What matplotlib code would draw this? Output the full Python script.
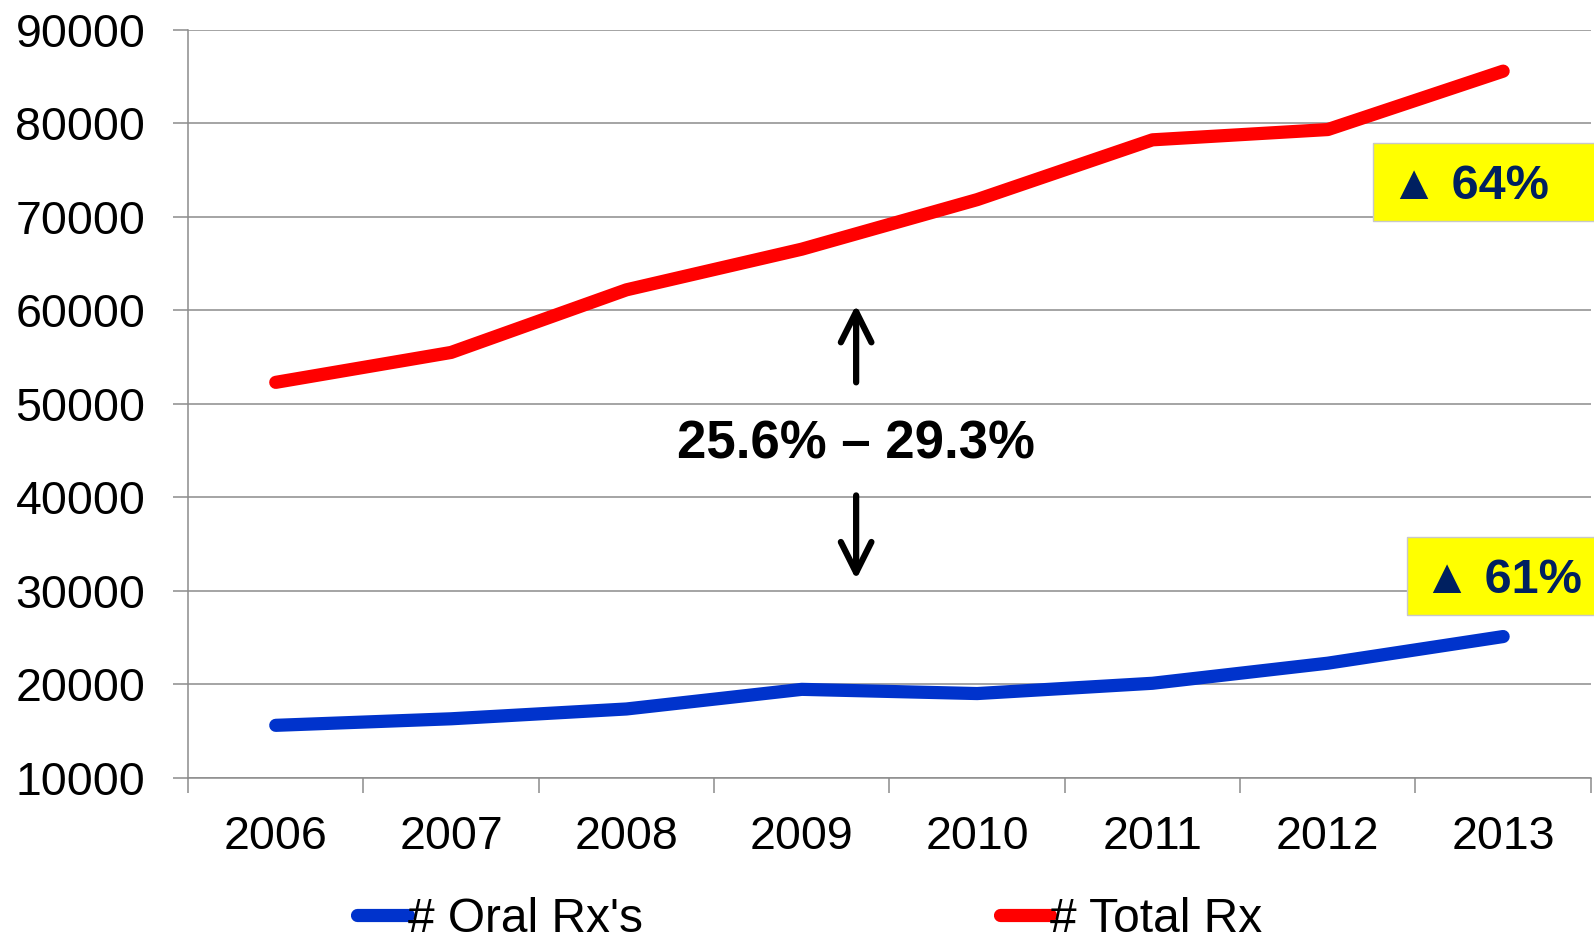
import matplotlib
matplotlib.use("Agg")
import matplotlib.pyplot as plt
import matplotlib.patches as patches
from matplotlib.lines import Line2D
from matplotlib.ticker import FixedLocator

plt.rcParams['font.family'] = ['Liberation Sans', 'DejaVu Sans']

# Data
years = ["2006", "2007", "2008", "2009", "2010", "2011", "2012", "2013"]
oral_rx = [15600, 16300, 17350, 19450, 19000, 20100, 22250, 25100]
total_rx = [52300, 55500, 62200, 66550, 71850, 78250, 79350, 85600]
series_labels = ["# Oral Rx's", "# Total Rx"]
gap_label = "25.6% \u2013 29.3%"
oral_growth = "\u25B2 61%"
total_growth = "\u25B2 64%"

blue = "#0033CC"
red = "#FF0000"
grid_gray = "#8C8C8C"
navy = "#002060"

fig = plt.figure(figsize=(15.94, 9.44), dpi=100)
ax = fig.add_axes([0.118, 0.1762, 0.880, 0.792])

x = list(range(len(years)))
ax.plot(x, oral_rx, color=blue, lw=9.5, solid_capstyle='round', solid_joinstyle='round', zorder=3)
ax.plot(x, total_rx, color=red, lw=9.5, solid_capstyle='round', solid_joinstyle='round', zorder=3)

ax.set_xlim(-0.5, len(years) - 0.5)
ax.set_ylim(10000, 90000)
ax.set_yticks(range(10000, 90001, 10000))
ax.yaxis.grid(True, color=grid_gray, lw=1.1)
ax.set_axisbelow(True)

ax.set_xticks(x)
ax.set_xticklabels(years)
ax.xaxis.set_minor_locator(FixedLocator([i - 0.5 for i in range(len(years) + 1)]))
ax.tick_params(axis='x', which='major', length=0, pad=27, labelsize=33.5)
ax.tick_params(axis='x', which='minor', length=10.5, width=1.1, color=grid_gray, direction='out')
ax.tick_params(axis='y', length=10.8, width=1.1, color=grid_gray, direction='out', pad=20, labelsize=33.5)

for side in ['top', 'right']:
    ax.spines[side].set_visible(False)
for side in ['left', 'bottom']:
    ax.spines[side].set_color(grid_gray)
    ax.spines[side].set_linewidth(1.1)

# gap annotation with arrows
arrow_style = dict(arrowstyle='->,head_length=2.2,head_width=1.1', lw=4.5, color='black',
                   shrinkA=0, shrinkB=0)
ax.text(3.31, 45650, gap_label, ha='center', va='center', fontsize=38, fontweight='bold', zorder=4)
ax.annotate("", xy=(3.31, 60600), xytext=(3.31, 52300), arrowprops=arrow_style)
ax.annotate("", xy=(3.31, 31200), xytext=(3.31, 40200), arrowprops=arrow_style)

# yellow growth boxes
fig.patches.append(patches.Rectangle((0.8614, 0.7659), 0.2, 0.0826, transform=fig.transFigure,
                                     facecolor='#FFFF00', edgecolor='#C8C8C8', lw=1, zorder=5))
fig.patches.append(patches.Rectangle((0.8827, 0.3485), 0.2, 0.0826, transform=fig.transFigure,
                                     facecolor='#FFFF00', edgecolor='#C8C8C8', lw=1, zorder=5))
fig.text(0.872, 0.802, total_growth, ha='left', va='center', fontsize=35, fontweight='bold',
         color=navy, zorder=6)
fig.text(0.893, 0.385, oral_growth, ha='left', va='center', fontsize=35, fontweight='bold',
         color=navy, zorder=6)

handles = [Line2D([], [], color=blue, lw=9.5, solid_capstyle='round'),
           Line2D([], [], color=red, lw=9.5, solid_capstyle='round')]
fig.legend(handles, series_labels, loc='center', bbox_to_anchor=(0.508, 0.026), ncol=2,
           frameon=False, fontsize=34.5, handlelength=1.05, handletextpad=0.0, columnspacing=7.45,
           borderpad=0.1)

fig.savefig("out.png", dpi=100)
